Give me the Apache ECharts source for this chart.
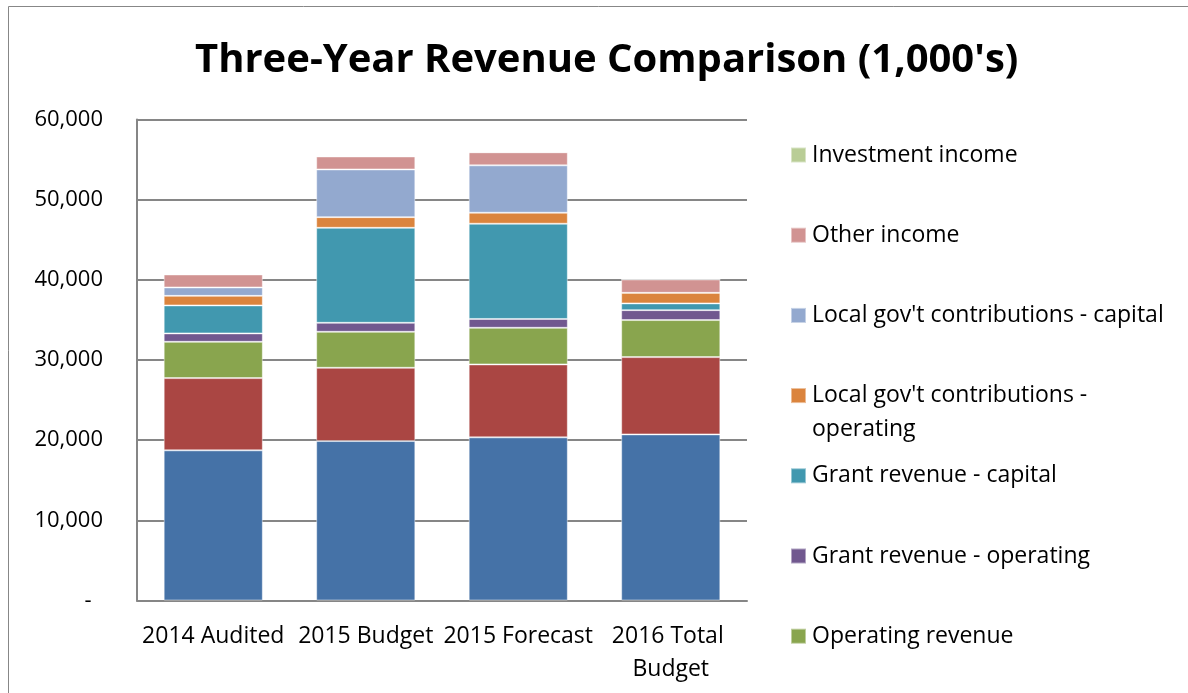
<!DOCTYPE html>
<html>
<head>
<meta charset="utf-8">
<title>Three-Year Revenue Comparison</title>
<script src="https://cdn.jsdelivr.net/npm/echarts@6/dist/echarts.min.js"></script>
<style>
  html, body { margin: 0; padding: 0; background: #fff; }
  #main { width: 1188px; height: 693px; }
</style>
</head>
<body>
<div id="main"></div>
<script>
  // categories (x axis)
  const years = ['2014 Audited', '2015 Budget', '2015 Forecast', '2016 Total Budget'];

  // series values, in 1,000's, stacked bottom -> top
  const propertyTax   = [18730, 19890, 20350, 20720];
  const salesTax      = [9010, 9140, 9100, 9640];
  const operatingRev  = [4530, 4490, 4570, 4620];
  const grantOper     = [1050, 1120, 1100, 1240];
  const grantCapital  = [3490, 11850, 11880, 840];
  const localOper     = [1190, 1330, 1370, 1320];
  const localCapital  = [1050, 5950, 5910, 0];
  const otherIncome   = [1620, 1620, 1630, 1670];
  const investIncome  = [0, 0, 0, 0];

  // legend entries as shown (top -> bottom)
  const legendNames = ['Investment income', 'Other income', "Local gov't contributions - capital",
    "Local gov't contributions - operating", 'Grant revenue - capital',
    'Grant revenue - operating', 'Operating revenue'];

  // y axis ticks
  const yMin = 0, yMax = 60000, yStep = 10000;

  const font = '"Open Sans", Lato, sans-serif';

  const chart = echarts.init(document.getElementById('main'));

  function bar(name, data, color) {
    return {
      name: name,
      type: 'bar',
      stack: 'total',
      data: data,
      barCategoryGap: '35%',
      itemStyle: { color: color, borderColor: 'rgba(255,255,255,0.45)', borderWidth: 1 },
      emphasis: { disabled: true }
    };
  }

  // one legend block per entry so the spacing matches Excel (80px apart);
  // the wrapped entry gets a blank first line so its marker sits on line one
  const legends = legendNames.map(function (name, i) {
    const wrap = name === "Local gov't contributions - operating";
    return {
      orient: 'vertical',
      left: 790,
      top: 138 + i * 80.2 - (wrap ? 34 : 0),
      padding: 0,
      itemWidth: 15,
      itemHeight: 15,
      icon: 'rect',
      selectedMode: false,
      data: [name],
      formatter: function (n) { return wrap ? " \nLocal gov't contributions -\noperating" : n; },
      textStyle: {
        fontFamily: font, fontSize: 23, color: '#000', lineHeight: 34,
        padding: [0, 0, 0, 1]
      }
    };
  });

  chart.setOption({
    animation: false,
    title: {
      text: "Three-Year Revenue Comparison (1,000's)",
      left: 190,
      top: 36,
      textStyle: { fontFamily: font, fontSize: 40, fontWeight: 'bold', color: '#000' }
    },
    legend: legends,
    graphic: [{
      type: 'rect',
      shape: { x: 8.5, y: 6.5, width: 1300, height: 800 },
      style: { fill: 'none', stroke: '#878787', lineWidth: 1 },
      silent: true
    }],
    grid: { left: 137, right: 441, top: 119.5, bottom: 92.5 },
    xAxis: {
      type: 'category',
      data: years,
      axisLine: { lineStyle: { color: '#868686', width: 2 } },
      axisTick: { show: false },
      axisLabel: {
        interval: 0, margin: 19, width: 162, overflow: 'break',
        fontFamily: font, fontSize: 23, color: '#000', lineHeight: 33
      }
    },
    yAxis: {
      type: 'value',
      min: yMin, max: yMax, interval: yStep,
      axisLine: { show: true, lineStyle: { color: '#868686', width: 2 } },
      axisTick: { show: true, inside: true, length: 4, lineStyle: { color: '#868686' } },
      splitLine: { lineStyle: { color: '#868686', width: 2 } },
      axisLabel: {
        margin: 34, fontFamily: font, fontSize: 22, color: '#000',
        formatter: function (v) { return v === 0 ? '-  ' : v.toLocaleString('en-US'); }
      }
    },
    series: [
      bar('Property tax revenue', propertyTax, '#4572A7'),
      bar('Sales tax revenue', salesTax, '#AA4643'),
      bar('Operating revenue', operatingRev, '#89A54E'),
      bar('Grant revenue - operating', grantOper, '#71588F'),
      bar('Grant revenue - capital', grantCapital, '#4198AF'),
      bar("Local gov't contributions - operating", localOper, '#DB843D'),
      bar("Local gov't contributions - capital", localCapital, '#93A9CF'),
      bar('Other income', otherIncome, '#D19392'),
      bar('Investment income', investIncome, '#B9CD96')
    ]
  });

  window.onresize = chart.resize;
</script>
</body>
</html>
